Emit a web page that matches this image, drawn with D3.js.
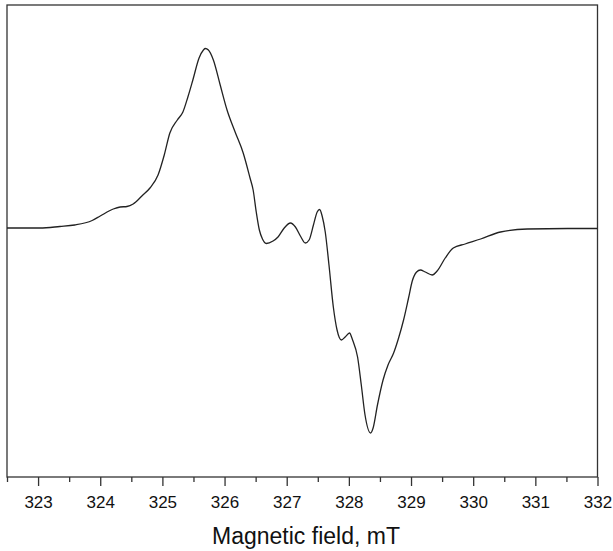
<!DOCTYPE html>
<html>
<head>
<meta charset="utf-8">
<script src="https://cdn.jsdelivr.net/npm/d3@7"></script>
<style>
  body { margin: 0; background: #fff; }
  svg { display: block; font-family: "Liberation Sans", Arial, sans-serif; }
</style>
</head>
<body>
<div id="chart"></div>
<script>
// EPR spectrum, field in mT, signal in arbitrary units (baseline = 0)
const field = [322.50, 323.03, 323.35, 323.59, 323.87, 324.00, 324.21, 324.32, 324.43, 324.53,
  324.67, 324.80, 324.93, 325.03, 325.12, 325.24, 325.33, 325.41, 325.49, 325.59,
  325.66, 325.69, 325.74, 325.82, 325.93, 326.04, 326.17, 326.30, 326.41, 326.46,
  326.51, 326.56, 326.61, 326.67, 326.78, 326.86, 326.96, 327.06, 327.14, 327.22,
  327.30, 327.36, 327.43, 327.49, 327.53, 327.57, 327.62, 327.68, 327.75, 327.81,
  327.88, 327.94, 328.01, 328.06, 328.14, 328.20, 328.26, 328.35, 328.39, 328.46,
  328.55, 328.63, 328.72, 328.80, 328.88, 328.96, 329.02, 329.09, 329.15, 329.23,
  329.34, 329.42, 329.55, 329.68, 329.87, 330.12, 330.44, 330.87, 331.52, 332.00];
const signal = [0.5, 0.5, 2, 3.5, 8, 12.5, 19.5, 21.5, 22, 24.5,
  32.5, 40.5, 53.5, 73.5, 95.5, 108.5, 116.5, 131.5, 148.5, 170.5,
  178.5, 180, 178.5, 168.5, 143.5, 118.5, 96.5, 75.5, 50.5, 38.5,
  16.5, -1.5, -10.5, -15, -12.5, -8.5, 0.5, 5.5, 1.5, -7.5,
  -14.5, -11.5, 3.5, 16.5, 19, 12.5, -3.5, -36.5, -78.5, -101.5,
  -111.5, -108.5, -104.5, -111.5, -128.5, -156.5, -186.5, -204.5, -199.5, -176.5,
  -151.5, -136.5, -124.5, -109.5, -91.5, -69.5, -52.5, -43.5, -41.5, -43.5,
  -46.5, -42.5, -29.5, -19.5, -15.5, -10.5, -3.5, -0.5, 0, 0];
const majorTicks = [323, 324, 325, 326, 327, 328, 329, 330, 331, 332];
const minorTicks = [322.5, 323.5, 324.5, 325.5, 326.5, 327.5, 328.5, 329.5, 330.5, 331.5];
const xLabel = "Magnetic field, mT";

const width = 613, height = 551;
const plot = { left: 7, right: 597.5, top: 5, bottom: 477 };

const svg = d3.select("#chart").append("svg")
  .attr("width", width)
  .attr("height", height);

const x = d3.scaleLinear().domain([322.5, 332]).range([plot.left, plot.right]);
const y = d3.scaleLinear().domain([-248.5, 223.5]).range([plot.bottom, plot.top]);

// frame
svg.append("rect")
  .attr("x", plot.left).attr("y", plot.top)
  .attr("width", plot.right - plot.left).attr("height", plot.bottom - plot.top)
  .attr("fill", "none")
  .attr("stroke", "#333")
  .attr("stroke-width", 1.3);

// minor ticks
svg.append("g")
  .attr("transform", "translate(0," + plot.bottom + ")")
  .call(d3.axisBottom(x).tickValues(minorTicks).tickSize(5).tickFormat(""))
  .call(g => g.select(".domain").remove())
  .call(g => g.selectAll("line").attr("stroke", "#333").attr("stroke-width", 1.3));

// major ticks + labels
svg.append("g")
  .attr("transform", "translate(0," + plot.bottom + ")")
  .call(d3.axisBottom(x).tickValues(majorTicks).tickSize(9).tickPadding(10).tickFormat(d3.format("d")))
  .call(g => g.select(".domain").remove())
  .call(g => g.selectAll("line").attr("stroke", "#333").attr("stroke-width", 1.3))
  .call(g => g.selectAll("text")
    .attr("fill", "#111")
    .style("font-size", "17px")
    .style("font-family", "'Liberation Sans', Arial, sans-serif"));

svg.append("text")
  .attr("x", 306)
  .attr("y", 544)
  .attr("text-anchor", "middle")
  .attr("fill", "#111")
  .style("font-size", "23px")
  .text(xLabel);

// spectrum
const line = d3.line()
  .x((d, i) => x(field[i]))
  .y(d => y(d))
  .curve(d3.curveMonotoneX);

svg.append("path")
  .datum(signal)
  .attr("fill", "none")
  .attr("stroke", "#222")
  .attr("stroke-width", 1.3)
  .attr("d", line);
</script>
</body>
</html>
